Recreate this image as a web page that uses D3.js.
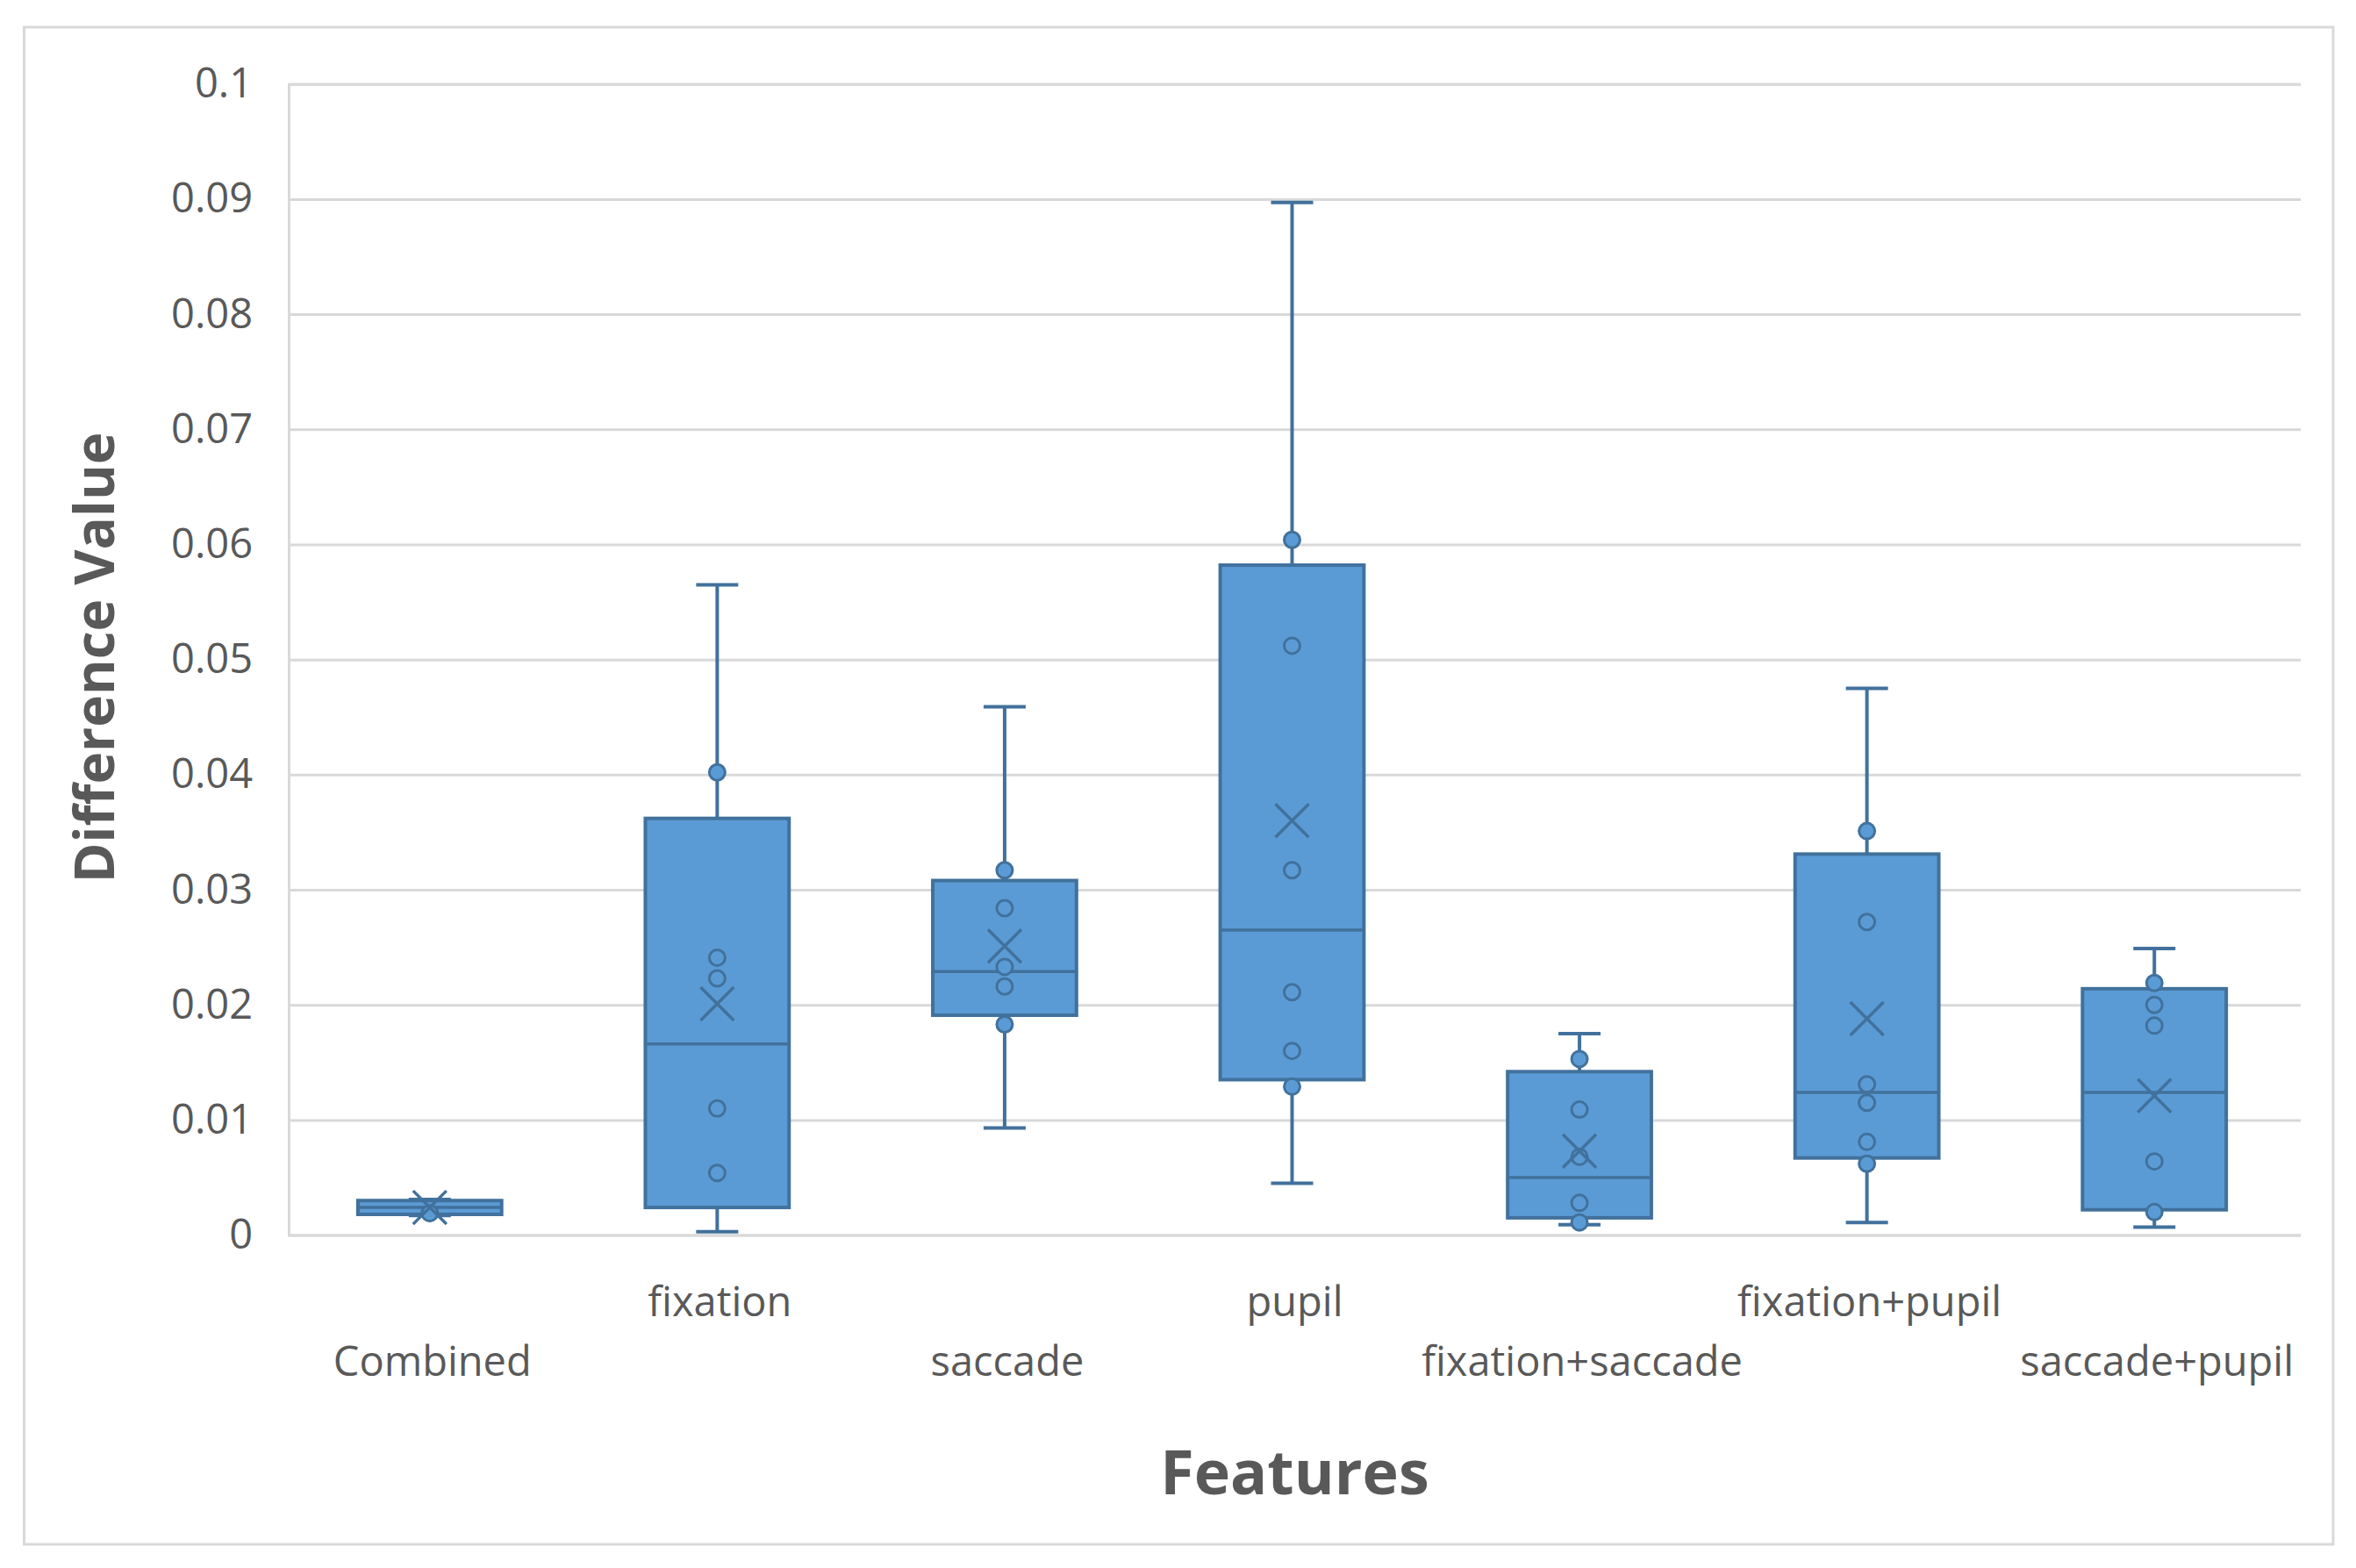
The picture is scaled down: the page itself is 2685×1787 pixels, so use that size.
<!DOCTYPE html>
<html>
<head>
<meta charset="utf-8">
<script src="https://cdn.jsdelivr.net/npm/d3@7"></script>
<style>
  html, body { margin: 0; padding: 0; background: #ffffff; }
  svg { display: block; }
  text { font-family: "Open Sans", "Noto Sans", sans-serif; fill: #595959; }
</style>
</head>
<body>
<script>
// ---- data ----
const categories = ["Combined", "fixation", "saccade", "pupil", "fixation+saccade", "fixation+pupil", "saccade+pupil"];
const whiskerMin = [0.0017, 0.0003, 0.0093, 0.0045, 0.0009, 0.0011, 0.0007];
const q1Values   = [0.0018, 0.0024, 0.0191, 0.0135, 0.0015, 0.0067, 0.0022];
const medians    = [0.0024, 0.0166, 0.0229, 0.0265, 0.0050, 0.0124, 0.0124];
const q3Values   = [0.0030, 0.0362, 0.0308, 0.0582, 0.0142, 0.0331, 0.0214];
const whiskerMax = [0.0031, 0.0565, 0.0459, 0.0897, 0.0175, 0.0475, 0.0249];
const means      = [0.0024, 0.0201, 0.0251, 0.0360, 0.0073, 0.0188, 0.0121];
const innerPoints = [
  [0.0019],
  [0.0402, 0.0241, 0.0223, 0.0110, 0.0054],
  [0.0317, 0.0284, 0.0233, 0.0216, 0.0183],
  [0.0604, 0.0512, 0.0317, 0.0211, 0.0160, 0.0129],
  [0.0153, 0.0109, 0.0068, 0.0028, 0.0011],
  [0.0351, 0.0272, 0.0131, 0.0115, 0.0081, 0.0062],
  [0.0219, 0.0200, 0.0182, 0.0064, 0.0020]
];
const yTicks = [0, 0.01, 0.02, 0.03, 0.04, 0.05, 0.06, 0.07, 0.08, 0.09, 0.1];
const yTickLabels = ["0", "0.01", "0.02", "0.03", "0.04", "0.05", "0.06", "0.07", "0.08", "0.09", "0.1"];
const xTitle = "Features";
const yTitle = "Difference Value";

// ---- layout ----
const W = 2685, H = 1787;
const plot = { left: 329, right: 2622, top: 95.7, bottom: 1407.6 };
const boxFill = "#5B9BD5", boxStroke = "#41719C", gridColor = "#D9D9D9";

const svg = d3.select("body").append("svg").attr("width", W).attr("height", H);
svg.append("rect").attr("width", W).attr("height", H).attr("fill", "#fff");

// chart border
svg.append("rect")
  .attr("x", 27.5).attr("y", 31).attr("width", 2659 - 27.5).attr("height", 1760 - 31)
  .attr("fill", "none").attr("stroke", gridColor).attr("stroke-width", 3);

const x = d3.scaleBand().domain(categories).range([plot.left, plot.right])
  .paddingInner(0.5).paddingOuter(0.25);
const y = d3.scaleLinear().domain([0, 0.1]).range([plot.bottom, plot.top]);
const boxShift = -3;

// gridlines
const grid = svg.append("g").attr("transform", `translate(${plot.left},0)`)
  .call(d3.axisLeft(y).tickValues(yTicks).tickSize(-(plot.right - plot.left)).tickFormat(""));
grid.selectAll(".tick line").attr("stroke", gridColor).attr("stroke-width", 3);
grid.select(".domain").attr("stroke", gridColor).attr("stroke-width", 3);

// y tick labels
const yAxis = svg.append("g").attr("transform", `translate(${plot.left},0)`)
  .call(d3.axisLeft(y).tickValues(yTicks).tickFormat((d, i) => yTickLabels[i]).tickSize(0).tickPadding(41));
yAxis.select(".domain").remove();
yAxis.selectAll("text").attr("font-size", 47).attr("fill", "#595959")
  .style("font-family", '"Open Sans", sans-serif');

// category labels (staggered like the reference)
svg.append("g").selectAll("text").data(categories).join("text")
  .attr("x", d => x(d) + x.bandwidth() / 2)
  .attr("y", (d, i) => i % 2 === 0 ? 1568 : 1500)
  .attr("text-anchor", "middle")
  .attr("font-size", 47)
  .text(d => d);

// axis titles
svg.append("text").attr("x", (plot.left + plot.right) / 2).attr("y", 1703)
  .attr("text-anchor", "middle").attr("font-size", 70).attr("font-weight", "bold").text(xTitle);
svg.append("text").attr("transform", "translate(130,749.5) rotate(-90)")
  .attr("text-anchor", "middle").attr("font-size", 62).attr("font-weight", "bold").text(yTitle);

// boxes
const bw = x.bandwidth();
const capW = 48;
const sw = 4;
const boxes = svg.append("g").selectAll("g").data(categories).join("g")
  .attr("transform", d => `translate(${x(d) + bw / 2 + boxShift},0)`);

// whiskers
boxes.append("line").attr("x1", 0).attr("x2", 0)
  .attr("y1", (d, i) => y(whiskerMax[i])).attr("y2", (d, i) => y(q3Values[i]))
  .attr("stroke", boxStroke).attr("stroke-width", sw);
boxes.append("line").attr("x1", 0).attr("x2", 0)
  .attr("y1", (d, i) => y(q1Values[i])).attr("y2", (d, i) => y(whiskerMin[i]))
  .attr("stroke", boxStroke).attr("stroke-width", sw);
boxes.append("line").attr("x1", -capW / 2).attr("x2", capW / 2)
  .attr("y1", (d, i) => y(whiskerMax[i])).attr("y2", (d, i) => y(whiskerMax[i]))
  .attr("stroke", boxStroke).attr("stroke-width", sw);
boxes.append("line").attr("x1", -capW / 2).attr("x2", capW / 2)
  .attr("y1", (d, i) => y(whiskerMin[i])).attr("y2", (d, i) => y(whiskerMin[i]))
  .attr("stroke", boxStroke).attr("stroke-width", sw);

// box
boxes.append("rect")
  .attr("x", -bw / 2).attr("width", bw)
  .attr("y", (d, i) => y(q3Values[i]))
  .attr("height", (d, i) => y(q1Values[i]) - y(q3Values[i]))
  .attr("fill", boxFill).attr("stroke", boxStroke).attr("stroke-width", sw);

// median
boxes.append("line").attr("x1", -bw / 2).attr("x2", bw / 2)
  .attr("y1", (d, i) => y(medians[i])).attr("y2", (d, i) => y(medians[i]))
  .attr("stroke", boxStroke).attr("stroke-width", 3.5);

// inner points
boxes.each(function (d, i) {
  d3.select(this).selectAll("circle").data(innerPoints[i]).join("circle")
    .attr("cx", 0).attr("cy", v => y(v)).attr("r", 9)
    .attr("fill", boxFill).attr("stroke", boxStroke).attr("stroke-width", 3);
});

// mean markers (X)
const xs = 19;
boxes.append("path")
  .attr("d", (d, i) => {
    const cy = y(means[i]);
    return `M${-xs},${cy - xs}L${xs},${cy + xs}M${-xs},${cy + xs}L${xs},${cy - xs}`;
  })
  .attr("fill", "none").attr("stroke", boxStroke).attr("stroke-width", 3.5);
</script>
</body>
</html>
